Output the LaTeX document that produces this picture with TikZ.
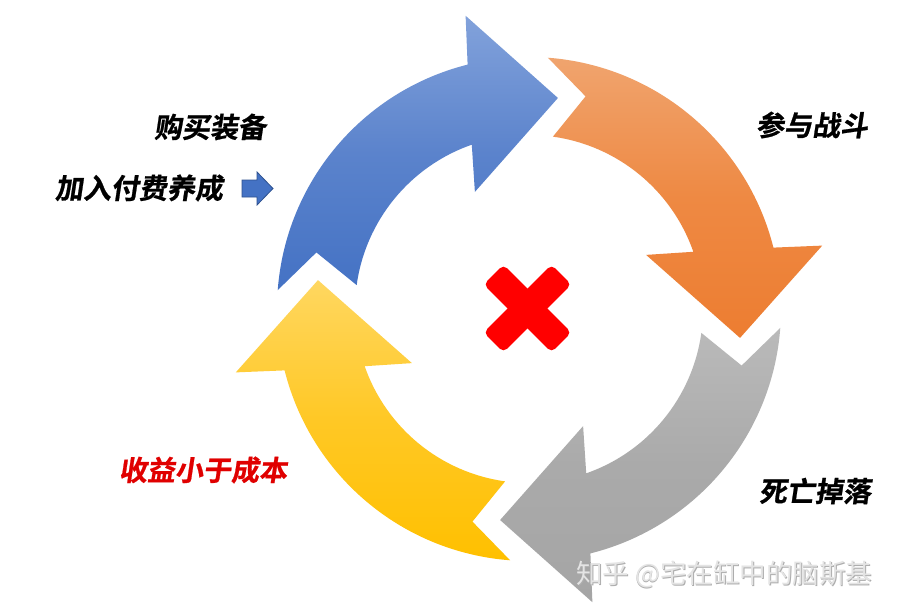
\documentclass[tikz,border=0pt]{standalone}
\usepackage{fontspec}
\newfontfamily\cjkb{Noto Sans CJK SC Bold}[FakeSlant=0.15,FakeBold=0.8]
\newfontfamily\cjkr{Noto Sans CJK SC}
\definecolor{blueT}{HTML}{82A2DB}
\definecolor{blueM}{HTML}{5B83CC}
\definecolor{blueB}{HTML}{4472C4}
\definecolor{orangeT}{HTML}{F0A46E}
\definecolor{orangeM}{HTML}{EE8943}
\definecolor{orangeB}{HTML}{ED7D31}
\definecolor{grayT}{HTML}{BABABA}
\definecolor{grayM}{HTML}{AAAAAA}
\definecolor{grayB}{HTML}{A5A5A5}
\definecolor{goldT}{HTML}{FFD760}
\definecolor{goldM}{HTML}{FFC825}
\definecolor{goldB}{HTML}{FFC000}
\definecolor{smallEdge}{HTML}{2F528F}
\definecolor{crossRed}{HTML}{FF0000}
\definecolor{lossRed}{HTML}{E00000}
\definecolor{wmFill}{HTML}{E4E4E4}
\definecolor{wmShadow}{HTML}{ADADAD}
% one curved arrow of the cycle: #1 rotation (deg), #2 #3 #4 top/middle/bottom colours
\newcommand{\cyclearrow}[4]{%
  \shade[top color=#2, bottom color=#4, middle color=#3, shift={(529,-309)}]
    ({175.7+#1}:252) arc[start angle={175.7+#1}, end angle={104.1+#1}, radius=252]
    -- ({102.2+#1}:300) -- ({82.2+#1}:213) -- ({114.8+#1}:129) -- ({109.2+#1}:174)
    arc[start angle={109.2+#1}, end angle={172.1+#1}, radius=174]
    -- ({165.1+#1}:220) -- cycle;}
\begin{document}
\begin{tikzpicture}[x=1pt,y=1pt,
  lbl/.style={font=\cjkb\fontsize{28}{30}\selectfont, inner sep=0pt, text=black},
  wm/.style={font=\cjkr\fontsize{26.5}{28}\selectfont, inner sep=0pt, anchor=west}]
\useasboundingbox (0,0) rectangle (901,-615);
\fill[white] (0,0) rectangle (901,-615);
% four cycle arrows
\cyclearrow{0}{blueT}{blueM}{blueB}
\cyclearrow{-90}{orangeT}{orangeM}{orangeB}
\cyclearrow{-180}{grayT}{grayM}{grayB}
\cyclearrow{90}{goldT}{goldM}{goldB}
% red cross
\begin{scope}[shift={(527.5,-308.5)}]
  \fill[crossRed, rounded corners=5pt, rotate=45] (-48,-14) rectangle (48,14);
  \fill[crossRed, rounded corners=5pt, rotate=-45] (-48,-14) rectangle (48,14);
\end{scope}
% small arrow
\fill[blueB, draw=smallEdge, line width=0.8pt, line join=miter]
  (242,-180) -- (257,-180) -- (257,-172) -- (273,-188.5) -- (257,-205) -- (257,-197) -- (242,-197) -- cycle;
% labels
\node[lbl] (buy) at (210,-127) {购买装备};
\node[lbl] (pay) at (139,-188) {加入付费养成};
\node[lbl] (fight) at (812,-125) {参与战斗};
\node[lbl] (die) at (815,-491) {死亡掉落};
\node[lbl, text=lossRed] (loss) at (203,-470) {收益小于成本};
% watermark
\node[wm, text=wmShadow] (wms) at (576.8,-575) {知乎 @宅在缸中的脑斯基};
\node[wm, text=wmFill] (wmt) at (576,-574.2) {知乎 @宅在缸中的脑斯基};
\end{tikzpicture}
\end{document}
